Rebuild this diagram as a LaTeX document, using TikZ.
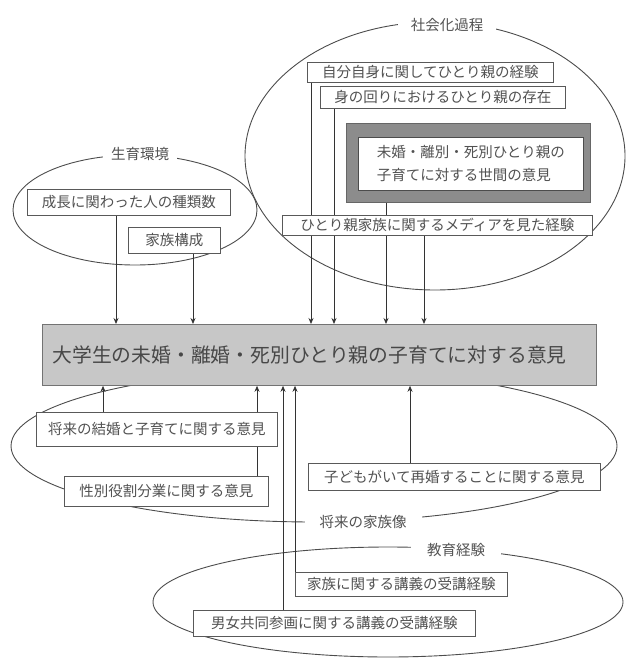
\documentclass[tikz,border=0pt]{standalone}
\usepackage{fontspec}
\newfontfamily\jpfont{Noto Sans CJK JP}
\usetikzlibrary{arrows.meta}
\pgfdeclarelayer{back}
\pgfsetlayers{back,main}
\begin{document}
\begin{tikzpicture}[x=1pt,y=-1pt,
  box/.style={draw=black!65, line width=0.8pt, fill=white, text=black!68,
    font=\jpfont\fontsize{14.5}{17}\selectfont, inner sep=0pt, anchor=north west},
  lab/.style={fill=white, text=black!68, font=\jpfont\fontsize{14.5}{17}\selectfont, inner ysep=1pt},
  ell/.style={draw=black!70, line width=0.9pt},
  arr/.style={draw=black!80, line width=0.8pt, -{Stealth[length=6pt,width=5pt]}}
]
\useasboundingbox (0,0) rectangle (627,660);

% ---- socialisation
\node[box, minimum width=246pt, minimum height=20pt] (s1) at (307,62) {自分自身に関してひとり親の経験};
\node[box, minimum width=245pt, minimum height=22pt] (s2) at (320,86) {身の回りにおけるひとり親の存在};
\node[box, fill=black!45, draw=black!60, minimum width=244pt, minimum height=79pt] (frame) at (346,123) {};
\node[box, draw=black!70, minimum width=225pt, minimum height=53pt, align=left,
  font=\jpfont\fontsize{14.5}{23}\selectfont] (opin) at (358,137) {未婚・離別・死別ひとり親の\\子育てに対する世間の意見};
\node[box, minimum width=310pt, minimum height=20pt] (media) at (282,215) {ひとり親家族に関するメディアを見た経験};

% ---- growth
\node[box, minimum width=203pt, minimum height=26pt] (g1) at (27,189) {成長に関わった人の種類数};
\node[box, minimum width=92pt, minimum height=26pt] (g2) at (128,227) {家族構成};

% ---- main
\node[box, fill=black!22, draw=black!55, minimum height=61pt, text width=534pt, inner xsep=10pt,
  align=left, font=\jpfont\fontsize{19.8}{22}\selectfont, text=black!72] (main) at (42,324)
  {大学生の未婚・離婚・死別ひとり親の子育てに対する意見};

% ---- future family
\node[box, minimum width=241pt, minimum height=34pt] (f1) at (36,412) {将来の結婚と子育てに関する意見};
\node[box, minimum width=204pt, minimum height=30pt] (f2) at (64,476) {性別役割分業に関する意見};
\node[box, minimum width=292pt, minimum height=27pt] (f3) at (308,463) {子どもがいて再婚することに関する意見};

% ---- education
\node[box, minimum width=212pt, minimum height=24pt] (e1) at (295,572) {家族に関する講義の受講経験};
\node[box, minimum width=282pt, minimum height=26pt] (e2) at (193,610) {男女共同参画に関する講義の受講経験};

% ---- group labels
\node[lab, inner xsep=13pt] (lsoc) at (447,25) {社会化過程};
\node[lab, inner xsep=8pt] (lgro) at (140,154) {生育環境};
\node[lab, inner xsep=15pt] (lfut) at (363,522) {将来の家族像};
\node[lab, inner xsep=16pt] (ledu) at (456,550) {教育経験};

\begin{pgfonlayer}{back}
  \draw[ell] (435,156) ellipse [x radius=190pt, y radius=134pt];
  \draw[ell] (135,210) ellipse [x radius=122pt, y radius=55pt];
  \draw[ell] (314,446) ellipse [x radius=303pt, y radius=76pt];
  \draw[ell] (388,602) ellipse [x radius=235pt, y radius=55pt];

  \coordinate (cs1) at (311,0);
  \coordinate (cs2) at (334,0);
  \coordinate (cs3) at (386,0);
  \coordinate (cs4) at (424,0);
  \coordinate (cg1) at (116,0);
  \coordinate (cg2) at (193,0);
  \coordinate (cf1) at (103,0);
  \coordinate (cf2) at (257,0);
  \coordinate (cf3) at (410,0);
  \coordinate (ce2) at (283,0);

  \draw[arr] (s1.south -| cs1) -- (main.north -| cs1);
  \draw[arr] (s2.south -| cs2) -- (main.north -| cs2);
  \draw[arr] (frame.south -| cs3) -- (main.north -| cs3);
  \draw[arr] (media.south -| cs4) -- (main.north -| cs4);
  \draw[arr] (g1.south -| cg1) -- (main.north -| cg1);
  \draw[arr] (g2.south -| cg2) -- (main.north -| cg2);
  \draw[arr] (f1.north -| cf1) -- (main.south -| cf1);
  \draw[arr] (f2.north -| cf2) -- (main.south -| cf2);
  \draw[arr] (f3.north -| cf3) -- (main.south -| cf3);
  \draw[arr] (e2.north -| ce2) -- (main.south -| ce2);
  \draw[arr] (e1.north west) -- (main.south -| e1.north west);
\end{pgfonlayer}
\end{tikzpicture}
\end{document}
